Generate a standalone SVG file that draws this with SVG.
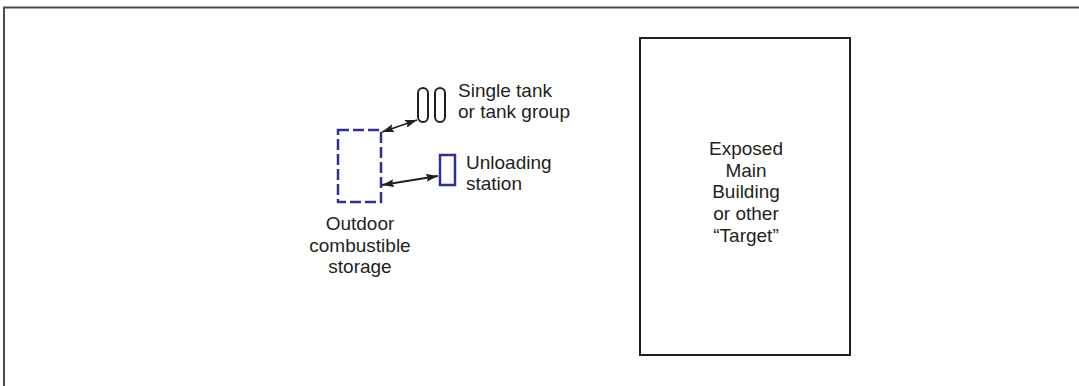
<svg xmlns="http://www.w3.org/2000/svg" width="1079" height="386" viewBox="0 0 1079 386">
<style>
text{font-family:"Liberation Sans",Arial,sans-serif;font-size:19px;fill:#231f20}
.frame{fill:none;stroke:#4a4a4a;stroke-width:2}
.tank{fill:none;stroke:#231f20;stroke-width:2}
.navy{fill:none;stroke:#2e3192;stroke-width:2.5}
.conn{stroke:#231f20;stroke-width:1.8;fill:none;marker-start:url(#ah);marker-end:url(#ah)}
</style>
<defs>
<marker id="ah" viewBox="0 0 12 8" refX="12" refY="4" markerWidth="12" markerHeight="8" markerUnits="userSpaceOnUse" orient="auto-start-reverse">
<path d="M0,0 L12,4 L0,8 L2,4 Z" fill="#231f20"/>
</marker>
</defs>
<rect width="1079" height="386" fill="#fff"/>
<path class="frame" d="M4,386 V7.5 H1079"/>
<g id="tanks">
<rect class="tank" x="418" y="88" width="10" height="34" rx="5"/>
<rect class="tank" x="435" y="88" width="10" height="34" rx="5"/>
<text x="458" y="97">Single tank</text>
<text x="458" y="118">or tank group</text>
</g>
<g id="storage">
<rect class="navy" x="338" y="130" width="43" height="72" stroke-dasharray="11,4"/>
<text x="360" y="230" text-anchor="middle">Outdoor</text>
<text x="360" y="252" text-anchor="middle">combustible</text>
<text x="360" y="273" text-anchor="middle">storage</text>
</g>
<g id="unloading">
<rect class="navy" x="440" y="155" width="15" height="30"/>
<text x="466" y="169">Unloading</text>
<text x="466" y="190">station</text>
</g>
<g id="target">
<rect x="640" y="38" width="210" height="317" fill="none" stroke="#231f20" stroke-width="2"/>
<text x="746" y="155" text-anchor="middle">Exposed</text>
<text x="746" y="177" text-anchor="middle">Main</text>
<text x="746" y="198" text-anchor="middle">Building</text>
<text x="746" y="220" text-anchor="middle">or other</text>
<text x="746" y="242" text-anchor="middle">“Target”</text>
</g>
<g id="connectors">
<line class="conn" x1="382" y1="132" x2="417" y2="120"/>
<line class="conn" x1="382" y1="185" x2="438" y2="176"/>
</g>
</svg>
